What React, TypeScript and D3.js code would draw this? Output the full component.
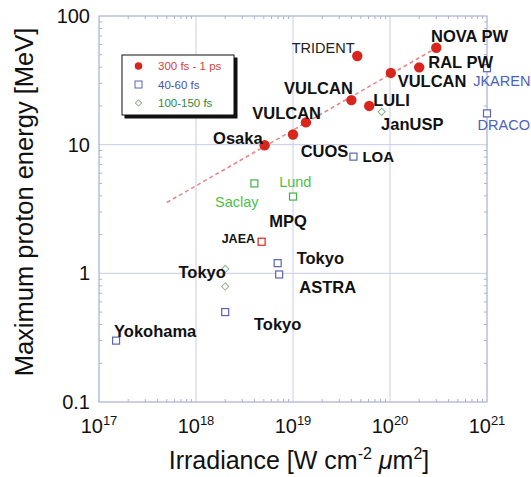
import React, { useEffect, useRef } from "react";
import * as d3 from "d3";

// 300 fs - 1 ps (filled red circles)
const longX = [4.6e19, 3.0e20, 2.0e20, 1.02e20, 4.0e19, 6.1e19, 1.36e19, 1.0e19, 5.1e18];
const longY = [48.9, 56.7, 39.9, 36.1, 22.2, 20.0, 14.9, 12.0, 9.9];

// JAEA (red open square)
const jaeaX = [4.75e18];
const jaeaY = [1.76];

// 40-60 fs (blue open squares)
const shortX = [1e21, 1e21, 4.2e19, 6.95e18, 7.2e18, 2.0e18, 1.5e17];
const shortY = [39.3, 17.5, 8.07, 1.2, 0.98, 0.5, 0.3];

// Saclay / Lund (green open squares)
const greenSqX = [4.0e18, 1.0e19];
const greenSqY = [5.0, 3.95];

// 100-150 fs (open diamonds)
const midX = [8.2e19, 2.0e18, 2.0e18];
const midY = [18.0, 1.08, 0.79];

// dashed scaling line
const fitX = [5e17, 3.2e20];
const fitY = [3.55, 58];

const xTickExp = [17, 18, 19, 20, 21];
const yTicks = [0.1, 1, 10, 100];
const yTickLabels = ["0.1", "1", "10", "100"];

const legendLabels = ["300 fs - 1 ps", "40-60 fs", "100-150 fs"];

// label text and anchor (data space)
const labelText = [
  "NOVA PW", "TRIDENT", "RAL PW", "VULCAN", "JKAREN", "VULCAN", "LULI", "VULCAN",
  "JanUSP", "DRACO", "Osaka", "CUOS", "LOA", "Lund", "Saclay", "MPQ", "JAEA",
  "Tokyo", "Tokyo", "ASTRA", "Tokyo", "Yokohama",
];
const labelX = [
  2.65e20, 9.7e18, 2.48e20, 1.2e20, 7.2e20, 8.1e18, 6.7e19, 3.8e18,
  8.1e19, 8.0e20, 1.5e18, 1.2e19, 5.2e19, 7.2e18, 1.57e18, 5.7e18, 1.84e18,
  1.09e19, 6.6e17, 1.16e19, 3.96e18, 1.43e17,
];
const labelY = [
  62.8, 51.9, 39.6, 27.9, 28.6, 24.8, 20.0, 15.7,
  12.9, 12.9, 10.1, 7.98, 7.38, 4.67, 3.3, 2.3, 1.71,
  1.18, 0.927, 0.70, 0.363, 0.322,
];
const labelKind = [
  "b", "t", "b", "b", "blue", "b", "b", "b",
  "b", "blue", "b", "b", "s", "green", "green", "b", "j",
  "b", "b", "b", "b", "b",
];

const FONT = "'Liberation Sans', Arial, Helvetica, sans-serif";
const RED = "#d9261c";
const BLUE = "#5a64ae";
const GREEN = "#45b04a";
const FRAME = "#a9afd6";

function App() {
  const ref = useRef<SVGSVGElement>(null);

  useEffect(() => {
    document.body.style.margin = "0";
    const svg = d3.select(ref.current);
    svg.selectAll("*").remove();

    const left = 99, right = 487, top = 16, bottom = 402;
    const x = d3.scaleLog().domain([1e17, 1e21]).range([left, right]);
    const y = d3.scaleLog().domain([0.1, 100]).range([bottom, top]);

    const g = svg.append("g").style("font-family", FONT);

    // grid
    g.selectAll(".vgrid").data([1e18, 1e19, 1e20]).join("line")
      .attr("x1", d => x(d)).attr("x2", d => x(d))
      .attr("y1", top).attr("y2", bottom)
      .attr("stroke", "#c9cde6").attr("stroke-width", 1);
    g.selectAll(".hgrid").data([1, 10]).join("line")
      .attr("x1", left).attr("x2", right)
      .attr("y1", d => y(d)).attr("y2", d => y(d))
      .attr("stroke", "#c9cde6").attr("stroke-width", 1);

    // minor ticks
    const xMinor: number[] = [];
    for (let e = 17; e < 21; e++) for (let m = 2; m < 10; m++) xMinor.push(m * Math.pow(10, e));
    const yMinor: number[] = [];
    for (let e = -1; e < 2; e++) for (let m = 2; m < 10; m++) yMinor.push(m * Math.pow(10, e));

    const tickG = g.append("g").attr("stroke", FRAME).attr("stroke-width", 1);
    xMinor.forEach(v => {
      tickG.append("line").attr("x1", x(v)).attr("x2", x(v)).attr("y1", bottom).attr("y2", bottom - 3);
      tickG.append("line").attr("x1", x(v)).attr("x2", x(v)).attr("y1", top).attr("y2", top + 3);
    });
    yMinor.forEach(v => {
      tickG.append("line").attr("y1", y(v)).attr("y2", y(v)).attr("x1", left).attr("x2", left + 3);
      tickG.append("line").attr("y1", y(v)).attr("y2", y(v)).attr("x1", right).attr("x2", right - 3);
    });

    // frame
    g.append("rect").attr("x", left).attr("y", top)
      .attr("width", right - left).attr("height", bottom - top)
      .attr("fill", "none").attr("stroke", FRAME).attr("stroke-width", 1.2);

    // tick labels
    xTickExp.forEach(e => {
      const t = g.append("text").attr("x", x(Math.pow(10, e))).attr("y", 433)
        .attr("text-anchor", "middle").attr("font-size", 20).attr("fill", "#111");
      t.append("tspan").text("10");
      t.append("tspan").attr("font-size", 13).attr("dy", -8).text(String(e));
    });
    yTicks.forEach((v, i) => {
      g.append("text").attr("x", 90).attr("y", y(v) + 7)
        .attr("text-anchor", "end").attr("font-size", 20).attr("fill", "#111")
        .text(yTickLabels[i]);
    });

    // axis titles
    const xt = g.append("text").attr("x", 299).attr("y", 469)
      .attr("text-anchor", "middle").attr("font-size", 25).attr("fill", "#111");
    xt.append("tspan").text("Irradiance [W cm");
    xt.append("tspan").attr("font-size", 16).attr("dy", -10).text("-2");
    xt.append("tspan").attr("dy", 10).text("\u00a0");
    xt.append("tspan").attr("font-style", "italic").text("\u03bc");
    xt.append("tspan").text("m");
    xt.append("tspan").attr("font-size", 16).attr("dy", -10).text("2");
    xt.append("tspan").attr("dy", 10).text("]");

    g.append("text").attr("transform", "translate(33,202) rotate(-90)")
      .attr("text-anchor", "middle").attr("font-size", 25.5).attr("fill", "#111")
      .text("Maximum proton energy [MeV]");

    // dashed line
    const line = d3.line<number>().x(d => x(fitX[d])).y(d => y(fitY[d]));
    g.append("path").attr("d", line([0, 1]))
      .attr("fill", "none").attr("stroke", "#e58a8a").attr("stroke-width", 1.6)
      .attr("stroke-dasharray", "4,3");

    // markers
    g.selectAll(".long").data(longX).join("circle")
      .attr("cx", d => x(d)).attr("cy", (d, i) => y(longY[i]))
      .attr("r", 5.2).attr("fill", RED);

    const sq = (xs: number[], ys: number[], color: string) => {
      g.append("g").selectAll("rect").data(xs).join("rect")
        .attr("x", d => x(d) - 3.5).attr("y", (d, i) => y(ys[i]) - 3.5)
        .attr("width", 7).attr("height", 7)
        .attr("fill", "white").attr("stroke", color).attr("stroke-width", 1.2);
    };
    sq(shortX, shortY, BLUE);
    sq(greenSqX, greenSqY, GREEN);
    sq(jaeaX, jaeaY, RED);

    const diamond = d3.symbol().type(d3.symbolSquare).size(26);
    g.append("g").selectAll("path").data(midX).join("path")
      .attr("transform", (d, i) => `translate(${x(d)},${y(midY[i])}) rotate(45)`)
      .attr("d", diamond()).attr("fill", "white").attr("stroke", "#8fb08f").attr("stroke-width", 1);

    // labels
    labelText.forEach((txt, i) => {
      const k = labelKind[i];
      const t = g.append("text").attr("x", x(labelX[i])).attr("y", y(labelY[i])).text(txt);
      if (k === "b") t.attr("font-size", 16.5).attr("font-weight", "bold").attr("fill", "#111");
      else if (k === "t") t.attr("font-size", 14.5).attr("fill", "#222");
      else if (k === "s") t.attr("font-size", 15).attr("font-weight", "bold").attr("fill", "#111");
      else if (k === "j") t.attr("font-size", 12.5).attr("font-weight", "bold").attr("fill", "#111");
      else if (k === "blue") t.attr("font-size", 14.5).attr("fill", "#4a62b8");
      else if (k === "green") t.attr("font-size", 14.5).attr("fill", "#4cbf4c");
    });

    // legend
    const lg = g.append("g").attr("transform", "translate(122,55)");
    lg.append("rect").attr("x", 2.5).attr("y", 2.5).attr("width", 113).attr("height", 61).attr("fill", "#111");
    lg.append("rect").attr("x", 0).attr("y", 0).attr("width", 112).attr("height", 60)
      .attr("fill", "white").attr("stroke", "#111").attr("stroke-width", 1);
    const rowY = [11, 29.5, 48];
    lg.append("circle").attr("cx", 16.5).attr("cy", rowY[0]).attr("r", 3.8).attr("fill", RED);
    lg.append("rect").attr("x", 13).attr("y", rowY[1] - 3.5).attr("width", 7).attr("height", 7)
      .attr("fill", "white").attr("stroke", BLUE).attr("stroke-width", 1);
    lg.append("path").attr("transform", `translate(16.5,${rowY[2]}) rotate(45)`)
      .attr("d", d3.symbol().type(d3.symbolSquare).size(20)())
      .attr("fill", "white").attr("stroke", "#8fb08f");
    const legendColors = ["#d2443c", "#4754a4", "#2f8a3a"];
    legendLabels.forEach((s, i) => {
      lg.append("text").attr("x", 36).attr("y", rowY[i] + 4.2)
        .attr("font-size", 11.5).attr("fill", legendColors[i]).text(s);
    });
  }, []);

  return <svg ref={ref} width={531} height={477} style={{ display: "block", background: "white" }} />;
}

export default App;
